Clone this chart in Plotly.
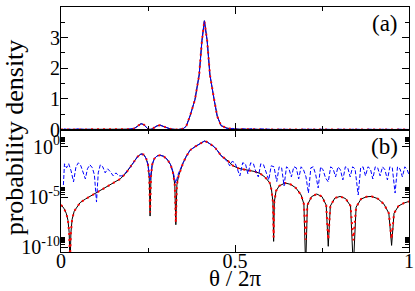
import plotly.graph_objects as go
from plotly.subplots import make_subplots

# ---- data ----
theta = [0.000, 0.008, 0.015, 0.020, 0.0235, 0.026, 0.0285, 0.032, 0.038, 0.045,
         0.055, 0.070, 0.085, 0.100, 0.112, 0.125, 0.140, 0.155, 0.170, 0.185,
         0.200, 0.210, 0.220, 0.230, 0.238, 0.245, 0.250, 0.2535, 0.256, 0.2585,
         0.262, 0.268, 0.276, 0.285, 0.295, 0.305, 0.315, 0.322, 0.327, 0.330,
         0.333, 0.338, 0.345, 0.351, 0.360, 0.371, 0.385, 0.397, 0.405, 0.412,
         0.420, 0.428, 0.440, 0.449, 0.460, 0.476, 0.494, 0.510, 0.534, 0.555,
         0.572, 0.587, 0.600, 0.605, 0.609, 0.611, 0.613, 0.618, 0.627, 0.644,
         0.660, 0.675, 0.690, 0.698, 0.703, 0.708, 0.720, 0.735, 0.750, 0.762,
         0.768, 0.774, 0.787, 0.802, 0.818, 0.832, 0.840, 0.848, 0.862, 0.878,
         0.893, 0.910, 0.928, 0.942, 0.950, 0.957, 0.970, 0.985, 1.000]

exact_density = [1.7e-6, 8e-7, 2.5e-7, 5e-8, 3e-9, 1e-12, 3e-9, 6.3e-8, 4e-7, 1e-6,
                 2.8e-6, 6.3e-6, 1.26e-5, 2.5e-5, 4e-5, 8e-5, 1.6e-4, 3.2e-4, 6.3e-4, 2e-3,
                 1e-2, 0.032, 0.1, 0.19, 0.16, 0.063, 0.016, 1e-3, 1.3e-7, 1e-3,
                 0.016, 0.063, 0.12, 0.14, 0.11, 0.056, 0.016, 2.5e-3, 1.6e-4, 1.8e-8,
                 1.6e-4, 1.26e-3, 7e-3, 0.025, 0.11, 0.45, 0.98, 1.78, 2.9, 3.55,
                 2.9, 1.78, 0.98, 0.43, 0.126, 0.05, 0.013, 7e-3, 5e-3, 3.5e-3,
                 2.2e-3, 9e-4, 2.5e-4, 5e-5, 3.2e-6, 4e-10, 3.2e-6, 4e-5, 1.26e-4, 2.5e-4,
                 1.8e-4, 8e-5, 1.6e-5, 2e-6, 1e-12, 1.6e-6, 1.1e-5, 2e-5, 1.1e-5, 1.6e-6,
                 1.3e-10, 1.3e-6, 8e-6, 1.15e-5, 7e-6, 1.3e-6, 1e-12, 1e-6, 6.3e-6, 1.07e-5,
                 1.15e-5, 7e-6, 2e-6, 2.5e-7, 1.6e-10, 2.5e-7, 1.3e-6, 2.5e-6, 3.7e-6]

approx_density = [1.7e-6, 8e-7, 2.5e-7, 5e-8, 3e-9, 1e-11, 3e-9, 6.3e-8, 4e-7, 1e-6,
                  2.8e-6, 6.3e-6, 1.26e-5, 2.5e-5, 4e-5, 8e-5, 1.6e-4, 3.2e-4, 6.3e-4, 2e-3,
                  1e-2, 0.032, 0.1, 0.19, 0.16, 0.063, 0.016, 1e-3, 3e-7, 1e-3,
                  0.016, 0.063, 0.12, 0.14, 0.11, 0.056, 0.016, 2.5e-3, 1.6e-4, 3e-8,
                  1.6e-4, 1.26e-3, 7e-3, 0.025, 0.11, 0.45, 0.98, 1.78, 2.9, 3.55,
                  2.9, 1.78, 0.98, 0.43, 0.126, 0.05, 0.013, 7e-3, 5e-3, 3.5e-3,
                  2.2e-3, 9e-4, 2.5e-4, 5e-5, 3.2e-6, 1e-9, 3.2e-6, 4e-5, 1.26e-4, 2.5e-4,
                  1.8e-4, 8e-5, 1.6e-5, 2e-6, 6e-10, 1.6e-6, 1.1e-5, 2e-5, 1.1e-5, 1.6e-6,
                  6e-10, 1.3e-6, 8e-6, 1.15e-5, 7e-6, 1.3e-6, 5e-10, 1e-6, 6.3e-6, 1.07e-5,
                  1.15e-5, 7e-6, 2e-6, 2.5e-7, 7e-10, 2.5e-7, 1.3e-6, 2.5e-6, 3.7e-6]

theta_b = [0.006, 0.010, 0.016, 0.022, 0.029, 0.036, 0.043, 0.050, 0.057, 0.064,
           0.070, 0.076, 0.083, 0.090, 0.096, 0.102, 0.107, 0.113, 0.120, 0.127,
           0.134, 0.142, 0.150, 0.158, 0.166, 0.175, 0.185, 0.200, 0.210, 0.220,
           0.230, 0.238, 0.245, 0.250, 0.256, 0.262, 0.268, 0.276, 0.285, 0.295,
           0.305, 0.315, 0.322, 0.330, 0.338, 0.345, 0.351, 0.360, 0.371, 0.385,
           0.397, 0.405, 0.412, 0.420, 0.428, 0.440, 0.449, 0.460, 0.470, 0.478,
           0.485, 0.492, 0.500, 0.507, 0.514, 0.522, 0.530, 0.537, 0.545, 0.553,
           0.560, 0.567, 0.574, 0.582, 0.590, 0.597, 0.604, 0.612, 0.620, 0.627,
           0.634, 0.641, 0.648, 0.655, 0.662, 0.669, 0.676, 0.683, 0.690, 0.697,
           0.704, 0.711, 0.718, 0.725, 0.732, 0.739, 0.746, 0.753, 0.760, 0.768,
           0.775, 0.782, 0.789, 0.796, 0.803, 0.810, 0.817, 0.824, 0.831, 0.838,
           0.845, 0.854, 0.861, 0.868, 0.875, 0.882, 0.889, 0.896, 0.903, 0.910,
           0.917, 0.924, 0.931, 0.938, 0.945, 0.952, 0.960, 0.967, 0.974, 0.981,
           0.988, 0.995, 1.000]

basis_density = [4e-5, 0.02, 8e-3, 0.02, 4e-3, 3.2e-4, 0.01, 0.025, 0.0126, 3.2e-3,
                 6.3e-4, 6.3e-3, 0.016, 8e-3, 1.6e-3, 3.2e-6, 2.5e-3, 0.016, 0.01, 2.5e-3,
                 6.3e-3, 3.2e-3, 1.26e-3, 2.5e-3, 1.26e-3, 1.26e-3, 2.5e-3, 0.01, 0.032, 0.1,
                 0.19, 0.16, 0.063, 0.016, 5e-4, 0.016, 0.063, 0.12, 0.14, 0.11,
                 0.056, 0.016, 3.2e-3, 2.5e-4, 2.5e-3, 0.01, 0.025, 0.11, 0.45, 0.98,
                 1.78, 2.9, 3.55, 2.9, 1.78, 0.98, 0.43, 0.126, 0.063, 0.032,
                 0.0126, 0.035, 0.025, 5e-3, 1.26e-3, 0.025, 0.02, 2e-3, 0.025, 0.02,
                 3.2e-3, 1e-3, 0.02, 0.016, 2.5e-3, 5e-4, 0.0126, 0.01, 3.5e-4, 0.01,
                 8e-3, 1.26e-4, 0.01, 6.3e-3, 1e-3, 0.01, 8e-3, 6.3e-4, 0.01, 5e-3,
                 1e-3, 2.5e-5, 8e-3, 0.01, 1.6e-3, 8e-5, 0.01, 5e-3, 8e-4, 3.2e-4,
                 0.01, 6.3e-3, 1e-3, 0.01, 5e-3, 5e-4, 0.01, 8e-3, 1e-3, 0.01,
                 6.3e-3, 1.6e-5, 8e-3, 0.01, 1.26e-3, 0.01, 6.3e-3, 6.3e-4, 0.01, 8e-3,
                 1.26e-3, 0.01, 5e-3, 5e-4, 0.01, 8e-3, 2.5e-5, 0.01, 6.3e-3, 1e-3,
                 0.01, 5e-3, 1.6e-3]

x_tickvals = [0, 0.5, 1]
x_ticktext = ["0", "0.5", "1"]
lin_tickvals = [0, 1, 2, 3, 4]
log_tickvals = [1e-10, 1e-5, 1]
log_ticktext = ["10<sup>-10</sup>", "10<sup>-5</sup>", "10<sup>0</sup>"]
log_minorvals = [2e-10, 3e-10, 4e-10, 5e-10, 6e-10, 7e-10, 8e-10, 9e-10,
                 2e-5, 3e-5, 4e-5, 5e-5, 6e-5, 7e-5, 8e-5, 9e-5,
                 2, 3, 4, 5, 6, 7, 8, 9]

FONT = "Liberation Serif, Times New Roman, Times, DejaVu Serif, serif"

fig = make_subplots(rows=2, cols=1, shared_xaxes=True, vertical_spacing=0)

for row in (1, 2):
    fig.add_trace(go.Scatter(x=theta, y=exact_density, mode="lines",
                             line=dict(color="black", width=1), showlegend=False), row=row, col=1)
    fig.add_trace(go.Scatter(x=theta, y=approx_density, mode="lines",
                             line=dict(color="#ff0000", width=2, dash="2px,4px"), showlegend=False), row=row, col=1)
    fig.add_trace(go.Scatter(x=theta_b, y=basis_density, mode="lines",
                             line=dict(color="#0000ff", width=1, dash="4px,2px"), showlegend=False), row=row, col=1)

axis_common = dict(showline=True, linecolor="black", linewidth=1, mirror="ticks",
                   ticks="inside", ticklen=7, tickwidth=1, tickcolor="black",
                   showgrid=False, zeroline=False, automargin=False,
                   tickfont=dict(family=FONT, size=20, color="black"))

fig.update_xaxes(range=[0, 1], tickmode="array", tickvals=x_tickvals, ticktext=x_ticktext,
                 ticklabelstandoff=-9,
                 minor=dict(ticks="inside", ticklen=4, dtick=0.25, tick0=0, tickcolor="black", showgrid=False),
                 **axis_common)
fig.update_xaxes(showticklabels=False, row=1, col=1)
fig.update_xaxes(showticklabels=True, row=2, col=1)

fig.update_yaxes(range=[0, 4], tickmode="array", tickvals=lin_tickvals, ticklabelstandoff=-4,
                 minor=dict(ticks="inside", ticklen=4, dtick=0.5, tick0=0, tickcolor="black", showgrid=False),
                 row=1, col=1, **axis_common)
fig.update_yaxes(type="log", range=[-10.45, 1.7], tickmode="array", tickvals=log_tickvals,
                 ticktext=log_ticktext, ticklabelstandoff=-4,
                 minor=dict(ticks="inside", ticklen=4, tickmode="array", tickvals=log_minorvals,
                            tickcolor="black", showgrid=False),
                 row=2, col=1, **axis_common)

ann_common = dict(xref="paper", yref="paper", showarrow=False, xanchor="center", yanchor="middle")
fig.add_annotation(text="(a)", x=0.931, y=0.931, font=dict(family=FONT, size=23, color="black"), **ann_common)
fig.add_annotation(text="(b)", x=0.931, y=0.429, font=dict(family=FONT, size=23, color="black"), **ann_common)
fig.add_annotation(text="probability density", x=-0.135, y=0.468, textangle=-90,
                   font=dict(family=FONT, size=26, color="black"), **ann_common)
fig.add_annotation(text="θ / 2π", x=0.5, y=-0.108,
                   font=dict(family=FONT, size=23, color="black"), **ann_common)

fig.update_layout(template="none", width=415, height=291, margin=dict(l=61, r=6, t=7, b=39),
                  plot_bgcolor="white", paper_bgcolor="white", showlegend=False)

fig.write_html("out.html", config={"displayModeBar": False},
               post_script="document.body.style.margin='0px';")
